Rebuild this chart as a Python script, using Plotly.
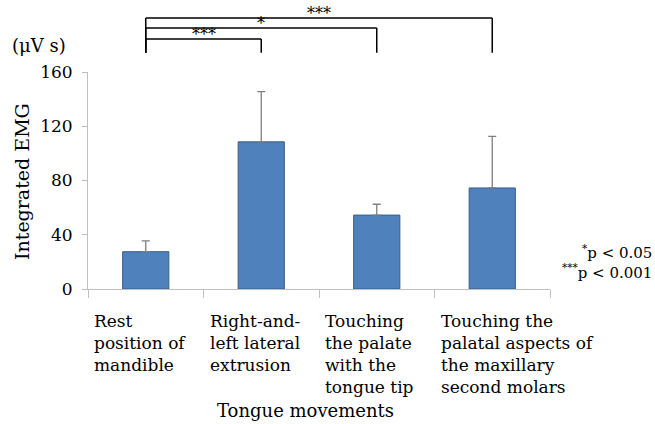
import plotly.graph_objects as go

categories = ["Rest<br>position of<br>mandible",
              "Right-and-<br>left lateral<br>extrusion",
              "Touching<br>the palate<br>with the<br>tongue tip",
              "Touching the<br>palatal aspects of<br>the maxillary<br>second molars"]
means = [27.5, 108.5, 54.5, 74.5]
sd = [8, 37, 8, 38]
y_ticks = [0, 40, 80, 120, 160]
# significance brackets: (from index, to index, label)
brackets = [(0, 3, "***"), (0, 2, "*"), (0, 1, "***")]
bracket_levels = [1.249, 1.203, 1.152]

FONT = "DejaVu Serif"
keys = ["c%d" % i for i in range(len(categories))]

fig = go.Figure()
fig.add_trace(go.Bar(
    x=keys, y=means, width=0.4,
    marker=dict(color="#4F81BD", line=dict(color="#385D8A", width=1)),
    error_y=dict(type="data", array=sd, arrayminus=[0]*len(sd), symmetric=False,
                 color="#7F7F7F", thickness=1.3, width=4),
))

shapes = []
annotations = []
leg_bottom = 1.089
for (a, b, lab), lvl in zip(brackets, bracket_levels):
    shapes.append(dict(type="line", xref="x", yref="paper", x0=a, x1=a, y0=leg_bottom, y1=lvl,
                       line=dict(color="black", width=1.5)))
    shapes.append(dict(type="line", xref="x", yref="paper", x0=a, x1=b, y0=lvl, y1=lvl,
                       line=dict(color="black", width=1.5)))
    shapes.append(dict(type="line", xref="x", yref="paper", x0=b, x1=b, y0=leg_bottom, y1=lvl,
                       line=dict(color="black", width=1.5)))
    annotations.append(dict(xref="x", yref="paper", x=(a + b) / 2, y=lvl, text=lab,
                            showarrow=False, yanchor="bottom", yshift=-7,
                            font=dict(family=FONT, size=16, color="black")))

for i, c in enumerate(categories):
    annotations.append(dict(xref="x", yref="paper", x=i - 0.5, y=-0.09, text=c,
                            showarrow=False, xanchor="left", yanchor="top", align="left",
                            xshift=4, font=dict(family=FONT, size=17, color="black")))

annotations.append(dict(xref="paper", yref="paper", x=(305 - 88) / 462, y=(289 - 410) / 217,
                        text="Tongue movements", showarrow=False, xanchor="center", yanchor="middle",
                        font=dict(family=FONT, size=18, color="black")))
annotations.append(dict(xref="paper", yref="paper", x=(10 - 88) / 462, y=(289 - 45) / 217,
                        text="(μV s)", showarrow=False, xanchor="left", yanchor="middle",
                        font=dict(family=FONT, size=18, color="black")))
annotations.append(dict(xref="paper", yref="paper", x=(22 - 88) / 462, y=(289 - 182) / 217,
                        text="Integrated EMG", showarrow=False, textangle=-90,
                        xanchor="center", yanchor="middle",
                        font=dict(family=FONT, size=19, color="black")))
annotations.append(dict(xref="paper", yref="paper", x=(654 - 88) / 462, y=(289 - 262) / 217,
                        text="<sup>*</sup>p < 0.05<br><sup>***</sup>p < 0.001", showarrow=False,
                        xanchor="right", yanchor="middle", align="right",
                        font=dict(family=FONT, size=15, color="black")))

fig.update_layout(
    width=655, height=424,
    margin=dict(l=88, r=105, t=72, b=135),
    plot_bgcolor="white", paper_bgcolor="white",
    showlegend=False,
    shapes=shapes, annotations=annotations,
    xaxis=dict(type="category", range=[-0.5, 3.5], categoryorder="array", categoryarray=keys,
               showticklabels=False,
               showline=True, linecolor="#BFBFBF", linewidth=1,
               ticks="outside", tickson="boundaries", ticklen=8, tickcolor="#BFBFBF",
               showgrid=False, zeroline=False),
    yaxis=dict(range=[0, 160], tickvals=y_ticks, showline=True, linecolor="#BFBFBF",
               linewidth=1, ticks="outside", ticklen=5, tickcolor="#BFBFBF",
               ticklabelstandoff=6,
               showgrid=False, zeroline=False,
               tickfont=dict(family=FONT, size=17, color="black")),
)
fig.write_html("out.html")
